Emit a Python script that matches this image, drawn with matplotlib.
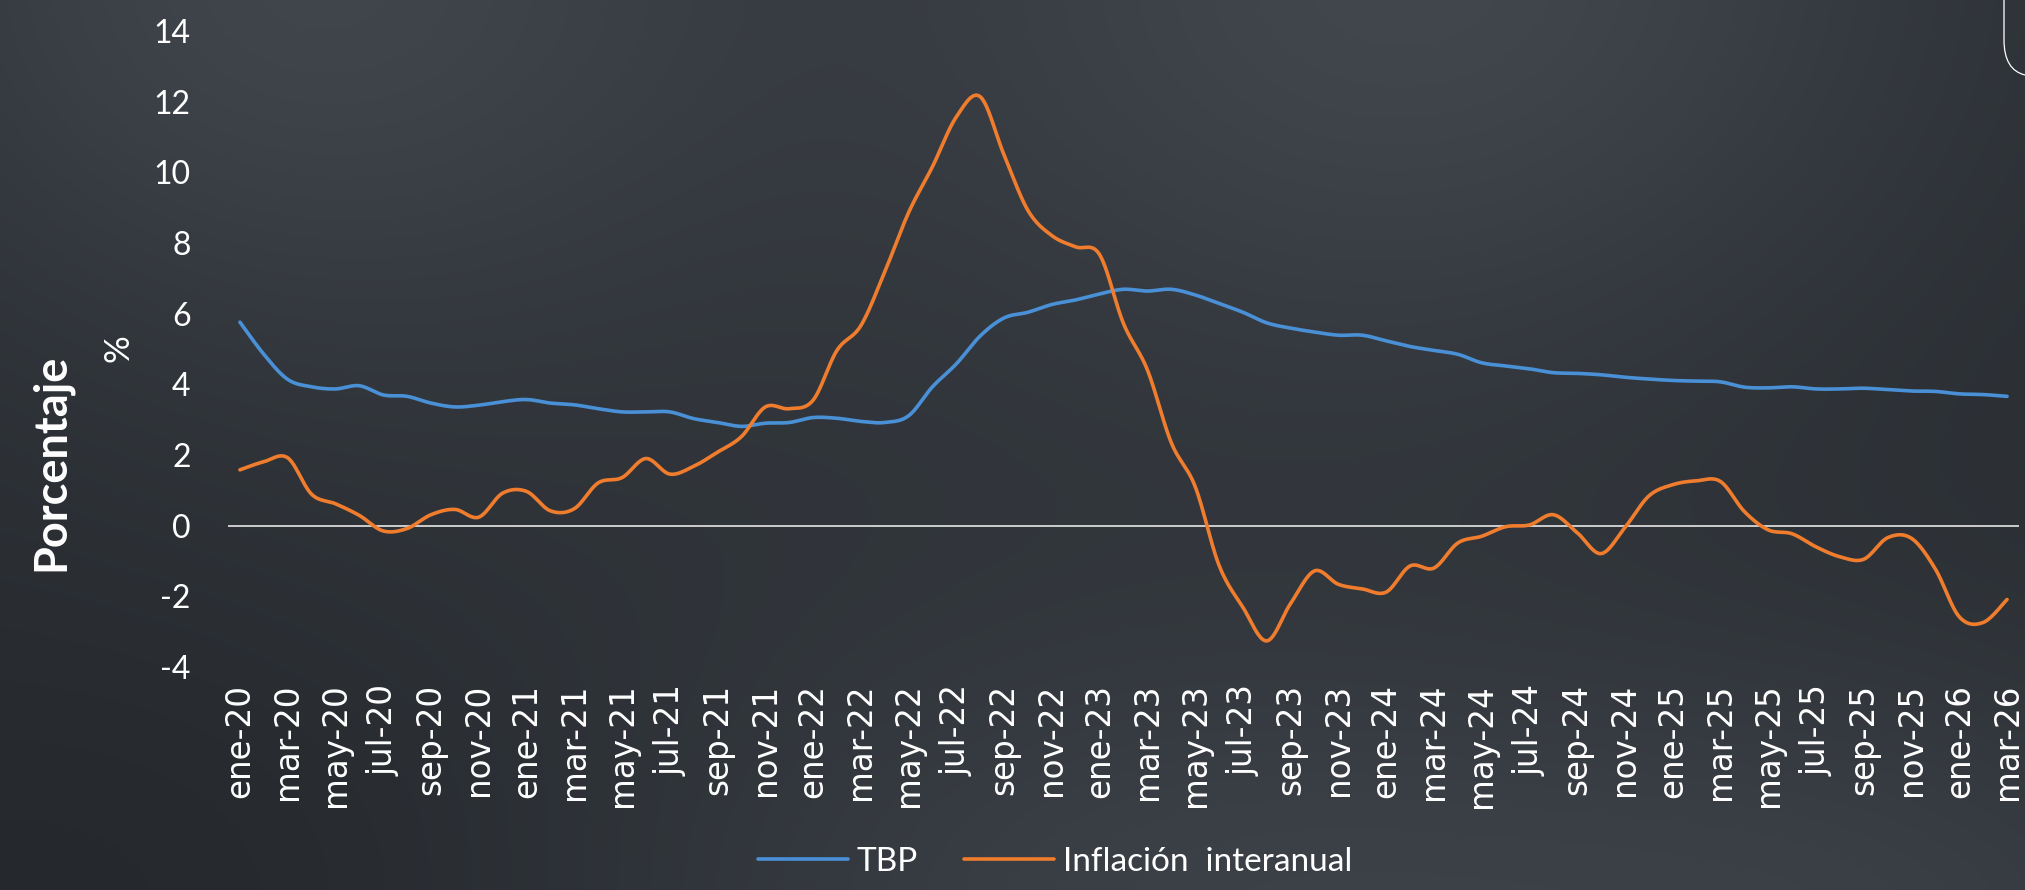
import numpy as np
import matplotlib
matplotlib.use("Agg")
import matplotlib.pyplot as plt
from matplotlib.path import Path
from matplotlib.patches import PathPatch
from matplotlib import font_manager

# ---------------- data ----------------
months = ["ene", "feb", "mar", "abr", "may", "jun", "jul", "ago", "sep", "oct", "nov", "dic"]
years = ["20", "21", "22", "23", "24", "25", "26"]
categories = [f"{m}-{y}" for y in years for m in months][:75]  # ene-20 .. mar-26

tbp = [5.76, 4.85, 4.14, 3.93, 3.87, 3.96, 3.70, 3.66, 3.47, 3.36, 3.41, 3.51,
       3.57, 3.47, 3.42, 3.31, 3.22, 3.22, 3.22, 3.03, 2.92, 2.81, 2.90, 2.92,
       3.06, 3.04, 2.95, 2.92, 3.11, 3.93, 4.58, 5.37, 5.88, 6.04, 6.26, 6.39,
       6.56, 6.69, 6.64, 6.69, 6.53, 6.29, 6.04, 5.74, 5.59, 5.48, 5.39, 5.39,
       5.23, 5.07, 4.96, 4.85, 4.61, 4.52, 4.44, 4.33, 4.31, 4.27, 4.20, 4.15,
       4.11, 4.09, 4.07, 3.92, 3.90, 3.93, 3.87, 3.87, 3.89, 3.85, 3.81, 3.80,
       3.73, 3.71, 3.66]

inflacion = [1.58, 1.81, 1.92, 0.89, 0.62, 0.29, -0.15, -0.08, 0.31, 0.46, 0.24, 0.92,
             0.97, 0.42, 0.48, 1.21, 1.36, 1.90, 1.46, 1.68, 2.08, 2.52, 3.36, 3.31,
             3.55, 4.96, 5.66, 7.18, 8.86, 10.16, 11.57, 12.14, 10.49, 8.92, 8.21, 7.89,
             7.67, 5.72, 4.41, 2.35, 1.11, -1.12, -2.31, -3.26, -2.20, -1.28, -1.66, -1.79,
             -1.88, -1.14, -1.20, -0.49, -0.30, -0.03, 0.02, 0.31, -0.20, -0.79, -0.05, 0.84,
             1.16, 1.27, 1.25, 0.40, -0.12, -0.23, -0.60, -0.88, -0.95, -0.34, -0.36, -1.23,
             -2.58, -2.74, -2.09]

series_names = ["TBP", "Inflación  interanual"]
yticks = list(range(-4, 15, 2))

# ---------------- helpers ----------------
def smooth(xv, yv, n=24):
    """Catmull-Rom (Excel-like smoothed line) through the data points."""
    x = np.asarray(xv, float)
    y = np.asarray(yv, float)
    px = np.concatenate([[x[0]], x, [x[-1]]])
    py = np.concatenate([[y[0]], y, [y[-1]]])
    t = np.linspace(0, 1, n, endpoint=False)
    ox, oy = [], []
    for i in range(1, len(px) - 2):
        p0x, p1x, p2x, p3x = px[i - 1], px[i], px[i + 1], px[i + 2]
        p0y, p1y, p2y, p3y = py[i - 1], py[i], py[i + 1], py[i + 2]
        c1x, c1y = p1x + (p2x - p0x) / 6, p1y + (p2y - p0y) / 6
        c2x, c2y = p2x - (p3x - p1x) / 6, p2y - (p3y - p1y) / 6
        b0 = (1 - t) ** 3
        b1 = 3 * (1 - t) ** 2 * t
        b2 = 3 * (1 - t) * t ** 2
        b3 = t ** 3
        ox.append(b0 * p1x + b1 * c1x + b2 * c2x + b3 * p2x)
        oy.append(b0 * p1y + b1 * c1y + b2 * c2y + b3 * p2y)
    ox.append([x[-1]])
    oy.append([y[-1]])
    return np.concatenate(ox), np.concatenate(oy)

available = {f.name for f in font_manager.fontManager.ttflist}
narrow = "Liberation Sans Narrow" if "Liberation Sans Narrow" in available else "Lato"
leg_size = 25 if narrow != "Lato" else 24

# ---------------- figure ----------------
W, H = 2025, 890
fig = plt.figure(figsize=(W / 100, H / 100), dpi=100)

# background gradient
bg = fig.add_axes([0, 0, 1, 1], zorder=-10)
yy, xx = np.mgrid[0:H:4, 0:W:4]
base = np.array([41, 45, 50], float)
img = np.zeros(xx.shape + (3,)) + base
def blob(cx, cy, sx, sy, amp):
    return amp * np.exp(-(((xx - cx) / sx) ** 2 + ((yy - cy) / sy) ** 2) / 2)
light = (blob(300, -40, 330, 260, 22) + blob(1420, -40, 380, 300, 24)
         + blob(1250, 930, 480, 220, 18) + blob(1950, 930, 300, 200, 10)
         + blob(700, 420, 500, 300, 4) - blob(200, 880, 400, 200, 5))
img += light[..., None] * np.array([1.0, 1.05, 1.12])
img = np.clip(img, 0, 255) / 255.0
bg.imshow(img, aspect="auto", extent=[0, 1, 0, 1], interpolation="bilinear")
bg.set_xlim(0, 1)
bg.set_ylim(0, 1)
bg.axis("off")

# rounded-corner artifact at top right
verts = [(2004 / W, 1.0), (2004 / W, 1 - 40 / H), (2004 / W, 1 - 70 / H), (2025 / W, 1 - 75 / H)]
codes = [Path.MOVETO, Path.LINETO, Path.CURVE3, Path.CURVE3]
fig.add_artist(PathPatch(Path(verts, codes), fc="none", ec="white", lw=0.9,
                         transform=fig.transFigure))

ax = fig.add_axes([228 / W, (H - 667) / H, (2019 - 228) / W, (667 - 31) / H])
ax.set_facecolor("none")

x = np.arange(len(categories))
sx, sy = smooth(x, tbp)
ax.plot(sx, sy, color="#4A90D6", lw=2.6, label=series_names[0], solid_capstyle="round")
sx, sy = smooth(x, inflacion)
ax.plot(sx, sy, color="#F07D2E", lw=2.6, label=series_names[1], solid_capstyle="round")

ax.axhline(0, color="#D9D9D9", lw=1.3, zorder=1)

ax.set_xlim(-0.5, len(categories) - 0.5)
ax.set_ylim(-4, 14)
ax.set_yticks(yticks)
ax.set_yticklabels([str(v) for v in yticks], fontsize=23, color="white", family="Lato")
ax.set_xticks(x[::2])
ax.set_xticklabels(categories[::2], rotation=90, fontsize=23.5, color="white",
                   family="DejaVu Sans")
ax.tick_params(axis="y", length=0, pad=27)
ax.tick_params(axis="x", length=0, pad=12)
for s in ax.spines.values():
    s.set_visible(False)

fig.text(51 / W, 1 - 462 / H, "Porcentaje", rotation=90, ha="center", va="center",
         fontsize=32.5, fontweight="bold", color="white", family="Lato")
fig.text(119 / W, 1 - 348 / H, "%", rotation=90, ha="center", va="center",
         fontsize=25, color="white", family="Lato")

leg = ax.legend(loc="center", bbox_to_anchor=(1055 / W, 1 - 862 / H),
                bbox_transform=fig.transFigure, ncol=2, frameon=False,
                handlelength=2.7, handletextpad=0.25, columnspacing=1.4,
                prop={"family": narrow, "size": leg_size})
for t in leg.get_texts():
    t.set_color("white")

fig.savefig("out.png", dpi=100)
